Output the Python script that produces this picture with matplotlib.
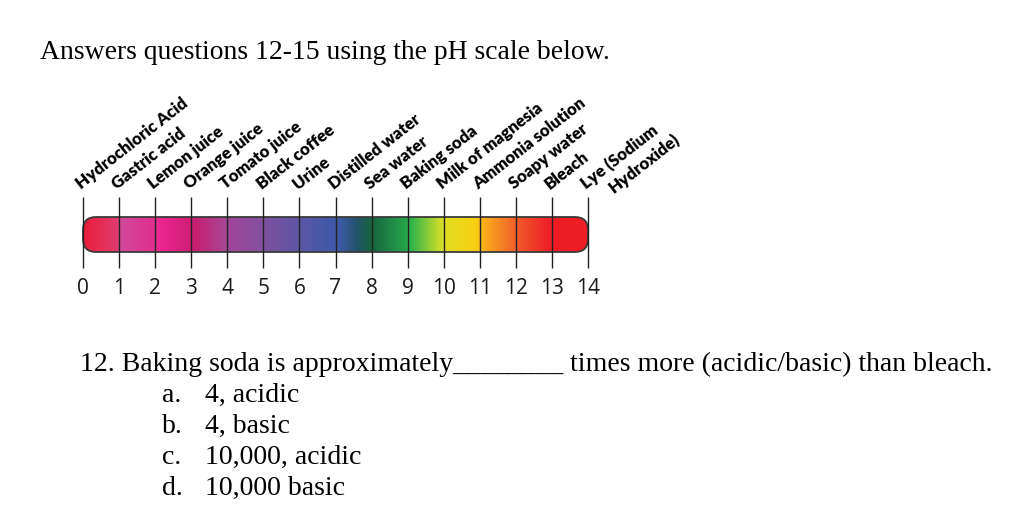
import matplotlib
matplotlib.use('Agg')
import matplotlib.pyplot as plt
import numpy as np
from matplotlib.colors import LinearSegmentedColormap
from matplotlib.patches import FancyBboxPatch
from matplotlib.transforms import offset_copy

W, H = 1024, 512

ph_values = list(range(15))
substances = ['Hydrochloric Acid', 'Gastric acid', 'Lemon juice', 'Orange juice',
              'Tomato juice', 'Black coffee', 'Urine', 'Distilled water', 'Sea water',
              'Baking soda', 'Milk of magnesia', 'Ammonia solution', 'Soapy water',
              'Bleach', 'Lye (Sodium\nHydroxide)']

# colour stops along the bar (pH, colour)
stop_ph = [0.0, 0.9, 1.05, 1.9, 2.1, 2.9, 3.1, 3.9, 4.1, 4.9, 5.1, 5.9, 6.1, 6.9, 7.1,
           7.6, 8.0, 8.9, 9.1, 9.9, 10.1, 10.9, 11.1, 11.9, 12.1, 12.9, 13.1, 14.0]
stop_colors = ['#ea1e3c', '#e03a6c', '#d2489a', '#e0308f', '#ec2690', '#d21f78',
               '#c61e70', '#aa4694', '#9e479a', '#86509f', '#7a519f', '#6155a5',
               '#5956a6', '#4058a8', '#3d5aa8', '#23546a', '#17643e', '#25a04a',
               '#2cb34a', '#cadc2c', '#e2dc22', '#f8d012', '#fbb21a', '#f26a28',
               '#f05828', '#ee2228', '#ee1c24', '#ee1f25']

title = 'Answers questions 12-15 using the pH scale below.'
question = '12. Baking soda is approximately________ times more (acidic/basic) than bleach.'
option_letters = ['a.', 'b.', 'c.', 'd.']
option_texts = ['4, acidic', '4, basic', '10,000, acidic', '10,000 basic']


def px(x, y):
    return x / W, 1 - y / H


fig = plt.figure(figsize=(W / 100, H / 100), dpi=100)
fig.patch.set_facecolor('white')

serif = 'Liberation Serif'
fig.text(*px(40, 59), title, family=serif, fontsize=19.9, ha='left', va='baseline')
fig.text(*px(80, 371), question, family=serif, fontsize=20, ha='left', va='baseline')
for i, (letter, txt) in enumerate(zip(option_letters, option_texts)):
    y = 402 + i * 31
    fig.text(*px(162, y), letter, family=serif, fontsize=20, ha='left', va='baseline')
    fig.text(*px(205, y), txt, family=serif, fontsize=20, ha='left', va='baseline')

# pH bar axes: x in pH units, y 0..1 spans the bar height
ax = fig.add_axes([83 / W, 1 - 252 / H, 505 / W, 35 / H])
ax.set_xlim(0, 14)
ax.set_ylim(0, 1)
ax.axis('off')

bbox = ax.get_position()
px_per_x = bbox.width * W / 14
px_per_y = bbox.height * H
aspect = px_per_x / px_per_y

bar = FancyBboxPatch((0, 0), 14, 1, boxstyle='round,pad=0,rounding_size=0.36',
                     mutation_aspect=aspect, facecolor='none', edgecolor='#3a3a3a',
                     linewidth=1.3, clip_on=False, zorder=3)
ax.add_patch(bar)

pos = [p / 14 for p in stop_ph]
cmap = LinearSegmentedColormap.from_list('ph', list(zip(pos, stop_colors)))
grad = np.linspace(0, 1, 700).reshape(1, -1)
img = ax.imshow(grad, cmap=cmap, extent=(0, 14, 0, 1), aspect='auto',
                interpolation='bilinear', zorder=2)
img.set_clip_path(bar)

ax.vlines(ph_values, -0.46, 1.57, color='#222222', linewidth=1.0, clip_on=False, zorder=4)

for p in ph_values:
    ax.text(p, -1.05, str(p), family='Open Sans', fontsize=15, ha='center', va='center',
            color='#1a1a1a')

angle = 38
ca, sa = np.cos(np.radians(angle)), np.sin(np.radians(angle))
for p, name in zip(ph_values, substances):
    for k, line in enumerate(name.split('\n')):
        along, perp = 19 * k, 20 * k
        tr = offset_copy(ax.transData, fig=fig, x=along * ca + perp * sa,
                         y=along * sa - perp * ca, units='dots')
        ax.text(p - 0.05, 1.77, line, transform=tr, family='Lato', fontweight='heavy',
                fontsize=12.2, rotation=angle, rotation_mode='anchor',
                ha='left', va='baseline')

fig.savefig('out.png', dpi=100)
